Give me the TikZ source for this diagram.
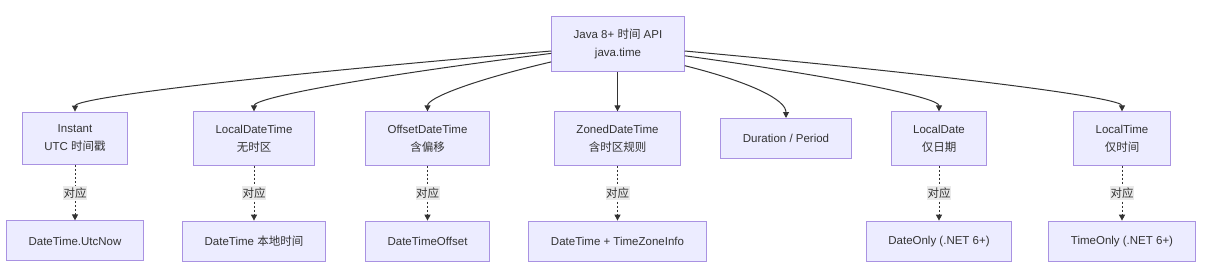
\documentclass[tikz,border=0pt]{standalone}
\usepackage{fontspec}
\setmainfont{Liberation Sans}
\newfontfamily\cjk{Noto Sans CJK SC}
\usepackage{xcolor}
\definecolor{boxFill}{HTML}{ECECFF}
\definecolor{boxStroke}{HTML}{A992E2}
\definecolor{lineGray}{HTML}{333333}
\definecolor{inkGray}{HTML}{333333}
\definecolor{labelGray}{HTML}{EAEAEA}
\usepackage{tikz}
\usetikzlibrary{
    arrows.meta,
    positioning,
    calc
}
\tikzset{
    % Base style for all boxes
    mermaid base/.style={
        font=\fontsize{11.5}{18}\selectfont,
        align=center,
        text=inkGray,
        inner xsep=22pt,
        inner ysep=13pt,
        minimum height=40pt,
    },
    % Type boxes - flat lavender rectangle
    type box/.style={
        mermaid base,
        rectangle,
        draw=boxStroke,
        line width=1pt,
        fill=boxFill,
    },
    % Plain arrow
    arrow/.style={
        -{Triangle[length=6pt, width=6pt]},
        line width=1pt,
        draw=lineGray,
    },
    % Dotted arrow variant
    arrow dotted/.style={
        arrow,
        line width=0.9pt,
        dash pattern=on 2pt off 2pt,
    },
    % Label style for the mapping edges
    edge label/.style={
        font=\fontsize{11.5}{14}\selectfont\cjk,
        text=inkGray,
        fill=labelGray,
        inner xsep=0.5pt,
        inner ysep=1.5pt,
    },
}

\begin{document}
\begin{tikzpicture}[x=1pt, y=1pt]
    \useasboundingbox (0,0) rectangle (1208,-268);
    \coordinate (gap) at (0,-91);

    \node (api) [type box] at (618,-44) {Java 8+ {\cjk 时间} API\\java.time};

    \node (instant) [type box] at (75,-138.5) {Instant\\UTC {\cjk 时间戳}};
    \node (local_dt) [type box] at (254,-138.5) {LocalDateTime\\{\cjk 无时区}};
    \node (offset_dt) [type box] at (427.5,-138.5) {OffsetDateTime\\{\cjk 含偏移}};
    \node (zoned_dt) [type box] at (617.5,-138.5) {ZonedDateTime\\{\cjk 含时区规则}};
    \node (duration) [type box] at (786,-138.5) {Duration / Period};
    \node (local_date) [type box] at (939,-138.5) {LocalDate\\{\cjk 仅日期}};
    \node (local_time) [type box] at (1122,-138.5) {LocalTime\\{\cjk 仅时间}};

    \node (utc_now) [type box, below=55pt of instant] {DateTime.UtcNow};
    \node (dt_local) [type box, below=55pt of local_dt] {DateTime {\cjk 本地时间}};
    \node (dt_offset) [type box, below=55pt of offset_dt] {DateTimeOffset};
    \node (dt_tz) [type box, below=55pt of zoned_dt] {DateTime + TimeZoneInfo};
    \node (date_only) [type box, below=55pt of local_date] {DateOnly (.NET 6+)};
    \node (time_only) [type box, below=55pt of local_time] {TimeOnly (.NET 6+)};

    % fan-out from the API box, bending down into each type
    \draw [arrow] (api.186)
        .. controls ($(api.186)!2/3!(instant.north |- gap)$) and ($(instant.north)+(0,13)$) .. (instant.north);
    \draw [arrow] (api.188)
        .. controls ($(api.188)!2/3!(local_dt.north |- gap)$) and ($(local_dt.north)+(0,13)$) .. (local_dt.north);
    \draw [arrow] (api.195)
        .. controls ($(api.195)!2/3!(offset_dt.north |- gap)$) and ($(offset_dt.north)+(0,13)$) .. (offset_dt.north);
    \draw [arrow] (api.south -| zoned_dt.north) -- (zoned_dt.north);
    \draw [arrow] (api.342)
        .. controls ($(api.342)!2/3!(duration.north |- gap)$) and ($(duration.north)+(0,18)$) .. (duration.north);
    \draw [arrow] (api.350)
        .. controls ($(api.350)!2/3!(local_date.north |- gap)$) and ($(local_date.north)+(0,13)$) .. (local_date.north);
    \draw [arrow] (api.354)
        .. controls ($(api.354)!2/3!(local_time.north |- gap)$) and ($(local_time.north)+(0,13)$) .. (local_time.north);

    \draw [arrow dotted] (instant) -- node [edge label] {对应} (utc_now);
    \draw [arrow dotted] (local_dt) -- node [edge label] {对应} (dt_local);
    \draw [arrow dotted] (offset_dt) -- node [edge label] {对应} (dt_offset);
    \draw [arrow dotted] (zoned_dt) -- node [edge label] {对应} (dt_tz);
    \draw [arrow dotted] (local_date) -- node [edge label] {对应} (date_only);
    \draw [arrow dotted] (local_time) -- node [edge label] {对应} (time_only);
\end{tikzpicture}
\end{document}
